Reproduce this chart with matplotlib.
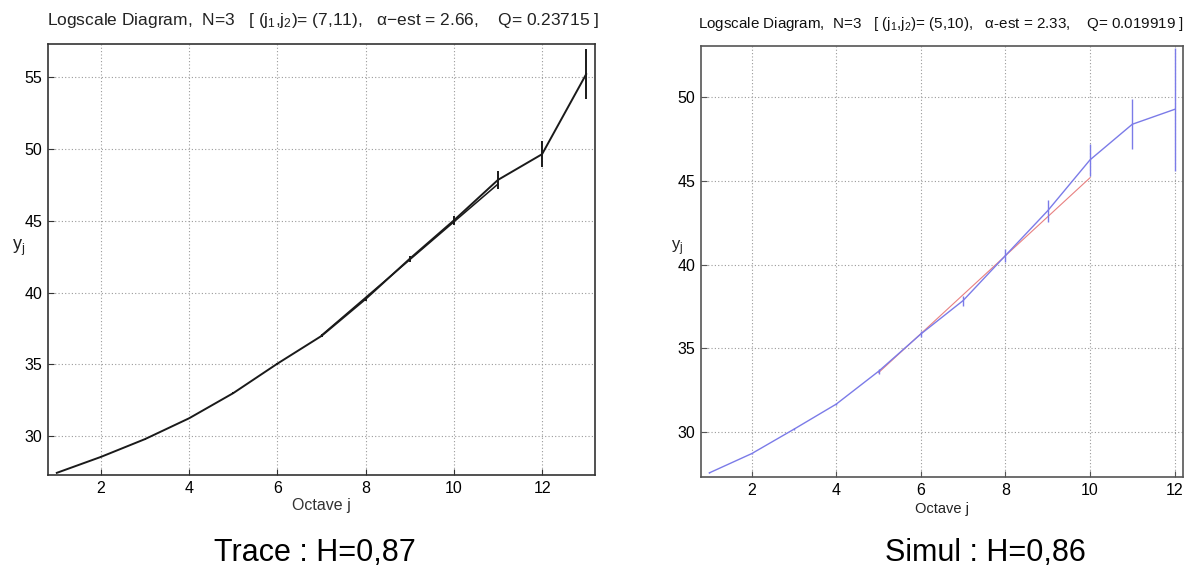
import matplotlib
matplotlib.use("Agg")
import matplotlib.pyplot as plt
import numpy as np

plt.rcParams['font.family'] = ['Liberation Sans', 'DejaVu Sans']
plt.rcParams['mathtext.fontset'] = 'custom'
plt.rcParams['mathtext.rm'] = 'Liberation Sans'
plt.rcParams['mathtext.it'] = 'Liberation Sans'

# ---- Left panel: Trace ----
trace_j = [1, 2, 3, 4, 5, 6, 7, 8, 9, 10, 11, 12, 13]
trace_y = [27.45, 28.56, 29.8, 31.25, 33.0, 35.05, 36.98, 39.55, 42.35, 45.02, 47.84, 49.63, 55.2]
trace_err = [0.02, 0.03, 0.04, 0.05, 0.06, 0.08, 0.1, 0.15, 0.2, 0.3, 0.6, 0.9, 1.75]
trace_fit_j = [7, 11]
trace_fit_y = [37.02, 47.55]
trace_title = r"Logscale Diagram,  N=3   [ (j$_1$,j$_2$)= (7,11),   $\alpha$$-$est = 2.66,    Q= 0.23715 ]"
trace_caption = "Trace : H=0,87"

# ---- Right panel: Simul ----
simul_j = [1, 2, 3, 4, 5, 6, 7, 8, 9, 10, 11, 12]
simul_y = [27.55, 28.7, 30.16, 31.66, 33.62, 35.85, 37.85, 40.54, 43.22, 46.26, 48.39, 49.28]
simul_err = [0.03, 0.04, 0.06, 0.08, 0.15, 0.2, 0.3, 0.4, 0.65, 0.95, 1.5, 3.7]
simul_fit_j = [5, 10]
simul_fit_y = [33.54, 45.19]
simul_title = r"Logscale Diagram,  N=3   [ (j$_1$,j$_2$)= (5,10),   $\alpha$-est = 2.33,    Q= 0.019919 ]"
simul_caption = "Simul : H=0,86"

fig = plt.figure(figsize=(11.92, 5.74), dpi=100)

def draw(ax, j, y, err, fj, fy, line_color, fit_color, frame_color, lw, xlim, ylim, yticks, tsize):
    ax.plot(j, y, color=line_color, lw=lw, zorder=3)
    ax.vlines(j, np.array(y) - np.array(err), np.array(y) + np.array(err), color=line_color, lw=lw, zorder=3)
    ax.plot(fj, fy, color=fit_color, lw=lw * 0.8, zorder=2)
    ax.set_xlim(*xlim)
    ax.set_ylim(*ylim)
    ax.set_xticks([2, 4, 6, 8, 10, 12])
    ax.set_yticks(yticks)
    ax.grid(True, color='#9a9a9a', linestyle=(0, (1, 2)), lw=0.8)
    for s in ax.spines.values():
        s.set_color(frame_color)
        s.set_linewidth(1.2)
    ax.tick_params(direction='in', length=4, labelsize=tsize, color=frame_color, pad=4)

ax1 = fig.add_axes([48/1192, (574-475)/574, 547/1192, 431/574])
draw(ax1, trace_j, trace_y, trace_err, trace_fit_j, trace_fit_y, '#1a1a1a', '#1a1a1a', '#333333', 1.4,
     (0.8, 13.2), (27.3, 57.3), [30, 35, 40, 45, 50, 55], 11.5)
ax1.set_xlabel("Octave j", fontsize=11.5, labelpad=2, color='#333333')
fig.text(19/1192, 1 - 248/574, r"y$_\mathregular{j}$", fontsize=13, ha='center', va='center', color='#222222')
fig.text(47/1192, 1 - 21/574, trace_title, fontsize=12.5, ha='left', va='center', color='#222222')
fig.text(315/1192, 1 - 553/574, trace_caption, fontsize=22, ha='center', va='center')

ax2 = fig.add_axes([701/1192, (574-477)/574, 482/1192, 431/574])
draw(ax2, simul_j, simul_y, simul_err, simul_fit_j, simul_fit_y, '#7b7be8', '#e88080', '#555555', 1.0,
     (0.8, 12.2), (27.3, 53.07), [30, 35, 40, 45, 50], 11.5)
ax2.set_xlabel("Octave j", fontsize=10.5, labelpad=3, color='#222222')
fig.text(677/1192, 1 - 248/574, r"y$_\mathregular{j}$", fontsize=12, ha='center', va='center', color='#222222')
fig.text(698/1192, 1 - 24/574, simul_title, fontsize=10.9, ha='left', va='center', color='#111111')
fig.text(985/1192, 1 - 553/574, simul_caption, fontsize=22, ha='center', va='center')

fig.savefig("out.png", dpi=100)
